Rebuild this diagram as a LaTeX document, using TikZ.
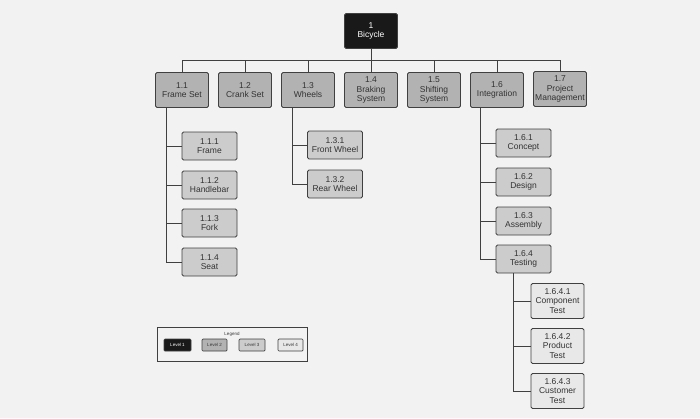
\documentclass[tikz,border=0pt]{standalone}
\usepackage{fontspec}
\setmainfont{Liberation Sans}
\begin{document}
\begin{tikzpicture}[
                x=1pt, y=-1pt,
                wbs/.style={
                    draw=black!75,
                    rectangle,
                    rounded corners=1.5pt,
                    line width=0.9pt,
                    align=center,
                    inner sep=0.5pt,
                    text=black!80,
                    font=\fontsize{8.5}{9.3}\selectfont
                },
                level1/.style={
                    wbs,
                    fill=black!90,
                    text=white,
                    minimum width=53pt,
                    minimum height=35pt
                },
                level2/.style={
                    wbs,
                    fill=black!30,
                    minimum width=53pt,
                    minimum height=35pt
                },
                level3/.style={
                    wbs,
                    fill=black!20,
                    minimum width=55pt,
                    minimum height=28pt
                },
                level4/.style={
                    wbs,
                    fill=black!9,
                    minimum width=53pt,
                    minimum height=35pt
                },
                keybox/.style={
                    wbs,
                    line width=0.7pt,
                    rounded corners=1pt,
                    minimum width=25pt,
                    minimum height=12pt,
                    font=\fontsize{4.5}{5}\selectfont
                },
                link/.style={
                    draw=black!75,
                    line width=0.9pt
                }
            ]
                \fill[black!5] (0,0) rectangle (700,418);
                \useasboundingbox (0,0) rectangle (700,418);

                \node[level1] (bike) at (371,31) {1\\Bicycle};

                \node[level2] (frame)  at (182,90) {1.1\\Frame Set};
                \node[level2] (crank)  at (245,90) {1.2\\Crank Set};
                \node[level2] (wheels) at (308,90) {1.3\\Wheels};
                \node[level2] (brake)  at (371,90) {1.4\\Braking\\System};
                \node[level2] (shift)  at (434,90) {1.5\\Shifting\\System};
                \node[level2] (integ)  at (497,90) {1.6\\Integration};
                \node[level2] (pm)     at (560,89) {1.7\\Project\\Management};

                \node[level3] (frameA) at (209.5,146) {1.1.1\\Frame};
                \node[level3] (frameB) at (209.5,185) {1.1.2\\Handlebar};
                \node[level3] (frameC) at (209.5,223) {1.1.3\\Fork};
                \node[level3] (frameD) at (209.5,262) {1.1.4\\Seat};

                \node[level3] (wheelA) at (335,145) {1.3.1\\Front Wheel};
                \node[level3] (wheelB) at (335,184) {1.3.2\\Rear Wheel};

                \node[level3] (integA) at (523.5,143) {1.6.1\\Concept};
                \node[level3] (integB) at (523.5,182) {1.6.2\\Design};
                \node[level3] (integC) at (523.5,221) {1.6.3\\Assembly};
                \node[level3] (integD) at (523.5,259) {1.6.4\\Testing};

                \node[level4] (testA) at (557.5,301) {1.6.4.1\\Component\\Test};
                \node[level4] (testB) at (557.5,346) {1.6.4.2\\Product\\Test};
                \node[level4] (testC) at (557.5,391) {1.6.4.3\\Customer\\Test};

                % tree lines
                \coordinate (bus) at (371,60);
                \draw[link] (bike) -- (bus);
                \foreach \part in {frame,crank,wheels,brake,shift,integ,pm}
                    \draw[link] (\part.north) |- (bus);
                \foreach \sub in {frameA,frameB,frameC,frameD}
                    \draw[link] ([xshift=11.5pt]frame.south west) |- (\sub.west);
                \foreach \sub in {wheelA,wheelB}
                    \draw[link] ([xshift=11.5pt]wheels.south west) |- (\sub.west);
                \foreach \sub in {integA,integB,integC,integD}
                    \draw[link] ([xshift=10.5pt]integ.south west) |- (\sub.west);
                \foreach \sub in {testA,testB,testC}
                    \draw[link] ([xshift=18pt]integD.south west) |- (\sub.west);

                % legend
                \node[draw=black!75, line width=0.9pt, rectangle, minimum width=150pt, minimum height=34pt] (legend) at (232,344) {};
                \node[font=\fontsize{4.5}{5}\selectfont, text=black!80] (legendtitle) at (232,334) {Legend};
                \node[keybox, fill=black!90, text=white, minimum width=27pt] (key1) at (177.5,345) {Level 1};
                \node[keybox, fill=black!30] (key2) at (214.5,345) {Level 2};
                \node[keybox, fill=black!20, minimum width=26pt] (key3) at (252,345) {Level 3};
                \node[keybox, fill=black!9] (key4) at (290.5,345) {Level 4};
        \end{tikzpicture}
\end{document}
